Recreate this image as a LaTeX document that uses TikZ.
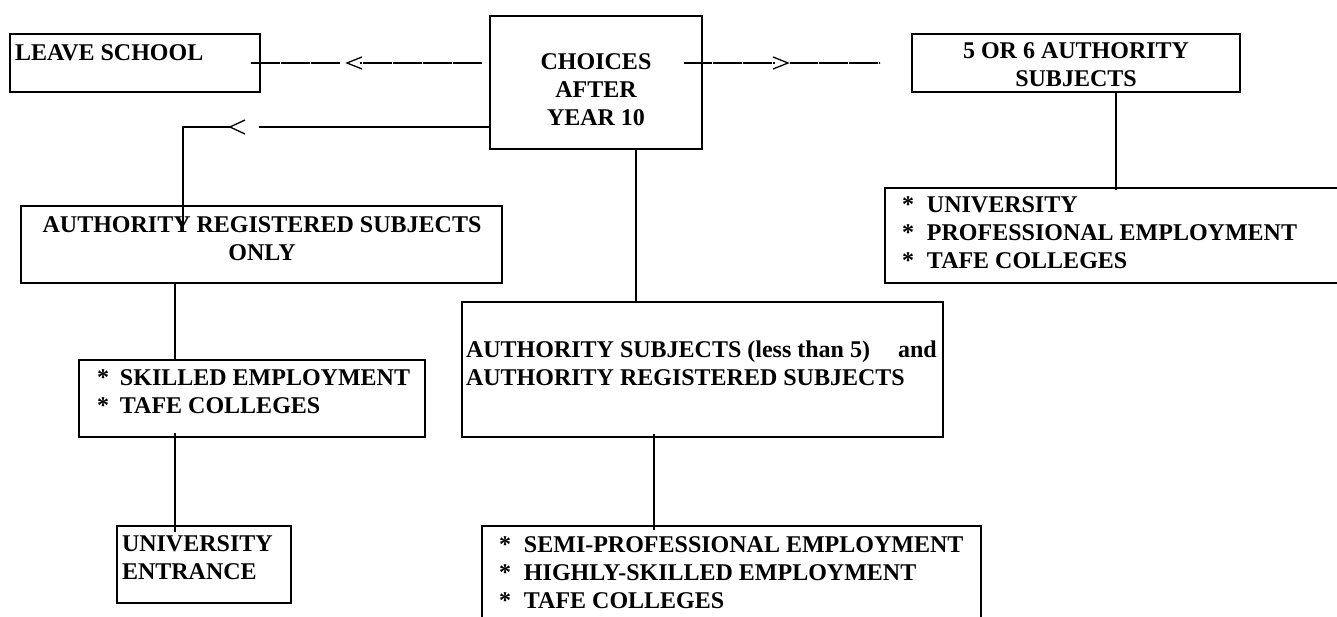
\documentclass[tikz,border=0pt]{standalone}
\usepackage{fontspec}
\setmainfont{Liberation Serif}
\usetikzlibrary{calc}
\begin{document}
\begin{tikzpicture}[x=1pt,y=-1pt,
  box/.style={draw, line width=1.9pt, inner sep=0pt, outer sep=0pt, anchor=north west},
  conn/.style={line width=1.9pt},
  dashconn/.style={line width=1.6pt, dash pattern=on 28pt off 0.6pt on 0.8pt off 0.6pt},
  chev/.style={line width=1.3pt},
  txt/.style={inner sep=0pt, outer sep=0pt, font=\fontsize{24}{28}\selectfont\bfseries}]
\clip (0,0) rectangle (1337,617);
% boxes
\node[box, minimum width=250pt, minimum height=58pt] (leave) at (10,34) {};
\node[box, minimum width=212pt, minimum height=133pt] (choices) at (490,16) {};
\node[box, minimum width=328pt, minimum height=58pt] (five) at (912,34) {};
\node[box, minimum width=460pt, minimum height=95pt] (uni) at (885,188) {};
\node[box, minimum width=481pt, minimum height=77pt] (ars) at (21,206) {};
\node[box, minimum width=346pt, minimum height=77pt] (skilled) at (79,360) {};
\node[box, minimum width=174pt, minimum height=77pt] (unient) at (117,526) {};
\node[box, minimum width=481pt, minimum height=135pt] (as) at (462,302) {};
\node[box, minimum width=499pt, minimum height=110pt] (bottom) at (482,526) {};
% texts
\node[txt, anchor=north west] (tleave) at (15,45) {LEAVE SCHOOL};
\node[txt, anchor=north, align=center] (tchoices) at (596,54) {CHOICES\\AFTER\\YEAR 10};
\node[txt, anchor=north, align=center] (tfive) at (1076,43) {5 OR 6 AUTHORITY\\SUBJECTS};
\node[txt, anchor=north west, align=left] (tuni) at (902,197)
  {\makebox[25pt][l]{*}UNIVERSITY\\\makebox[25pt][l]{*}PROFESSIONAL EMPLOYMENT\\\makebox[25pt][l]{*}TAFE COLLEGES};
\node[txt, anchor=north, align=center] (tars) at (262,217) {AUTHORITY REGISTERED SUBJECTS\\ONLY};
\node[txt, anchor=north west, align=left] (tskilled) at (97,370)
  {\makebox[23pt][l]{*}SKILLED EMPLOYMENT\\\makebox[23pt][l]{*}TAFE COLLEGES};
\node[txt, anchor=north west, align=left] (tunient) at (122,536) {UNIVERSITY\\ENTRANCE};
\node[txt, anchor=north west, align=left] (tas) at (466,341)
  {AUTHORITY SUBJECTS (less than 5)\hspace{28pt}and\\AUTHORITY REGISTERED SUBJECTS};
\node[txt, anchor=north west, align=left] (tbottom) at (499,537)
  {\makebox[25pt][l]{*}SEMI-PROFESSIONAL EMPLOYMENT\\\makebox[25pt][l]{*}HIGHLY-SKILLED EMPLOYMENT\\\makebox[25pt][l]{*}TAFE COLLEGES};
% chevron points
\coordinate (ch1) at (347,63);
\coordinate (ch2) at (788,63);
\coordinate (ch3) at (230,127);
% choices -> leave school
\draw[dashconn] ($(choices.north west)+(-8,47)$) -- ($(ch1)+(13,0)$);
\draw[chev] ($(ch1)+(15,-6)$) -- (ch1) -- ($(ch1)+(15,6)$);
\draw[dashconn] ($(ch1)+(-7,0)$) -- ($(leave.east)+(-10,0)$);
% choices -> 5 or 6
\draw[dashconn] ($(choices.north east)+(-18,47)$) -- ($(ch2)+(-13,0)$);
\draw[chev] ($(ch2)+(-15,-6)$) -- (ch2) -- ($(ch2)+(-15,6)$);
\draw[dashconn] ($(ch2)+(2,0)$) -- ($(five.west)+(-32,0)$);
% choices -> authority registered only
\draw[conn] ($(choices.south west)+(0,-22)$) -- ($(ch3)+(29,0)$);
\draw[chev] ($(ch3)+(15,-7)$) -- (ch3) -- ($(ch3)+(15,7)$);
\draw[conn] (ch3) -| ($(ars.north west)+(162,19)$);
% verticals
\draw[conn] ($(choices.south west)+(146,0)$) -- ($(as.north west)+(174,0)$);
\draw[conn] ($(five.south west)+(204,0)$) -- ($(uni.north west)+(231,2)$);
\draw[conn] ($(ars.south west)+(154,0)$) -- ($(skilled.north west)+(96,0)$);
\draw[conn] ($(skilled.south west)+(96,-4)$) -- ($(unient.north west)+(58,6)$);
\draw[conn] ($(as.south west)+(192,-3)$) -- ($(bottom.north west)+(172,4)$);
\end{tikzpicture}
\end{document}
